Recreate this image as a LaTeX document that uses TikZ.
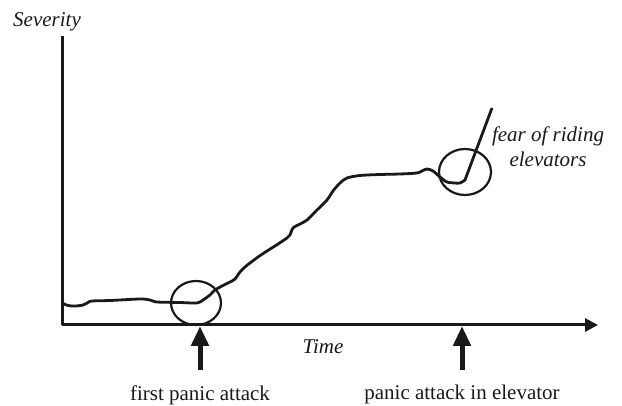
\documentclass[tikz,border=0pt]{standalone}
\usepackage{fontspec}
\setmainfont{Liberation Serif}
\usetikzlibrary{arrows.meta}

\definecolor{ink}{rgb}{0.1,0.1,0.1}

\begin{document}
\begin{tikzpicture}[x=1pt, y=-1pt, font=\fontsize{21}{25}\selectfont]
        \useasboundingbox (0,0) rectangle (622,406);

        \coordinate (origin) at (62,325);
        \coordinate (ytop) at (62,36);
        \coordinate (xend) at (598,325);
        \coordinate (first) at (200,326);
        \coordinate (elev) at (462,326);

        \draw[ink, line width=3pt] (ytop) -- (origin);
        \draw[ink, line width=3pt, -{Triangle[width=13pt,length=13pt]}] (origin) -- (xend);

        \node[ink, font=\fontsize{21}{25}\selectfont\itshape] (sev) at (47,22) {Severity};
        \node[ink, font=\fontsize{21}{25}\selectfont\itshape] (time) at (323,347) {Time};

        \draw[ink, line width=2.8pt, line join=round] plot[smooth, tension=0.5] coordinates {
            (62,303) (68,305.5) (75,306) (83,305) (88,302.5) (92,301) (110,300.5)
            (140,299) (150,300) (157,302) (180,302.5) (197,303) (203,300) (210,295)
            (215,290) (222,286) (230,282) (235,279) (240,272) (245,267) (250,263)
            (258,257) (267,251) (275,246) (287,238) (290,235) (293,228) (300,224)
            (307,220) (317,210) (327,200) (333,191) (340,183) (347,178) (360,175.5)
            (380,174.5) (400,174) (417,173) (422,171) (427,169) (433,171) (440,177)
            (447,182) (455,183) (460,183) (465,180)} -- (492,108);

        \draw[ink, line width=2.2pt] (196,303) ellipse (25 and 22);
        \draw[ink, line width=2.2pt] (465,172) ellipse (26 and 23);

        \node[ink, font=\fontsize{21}{25}\selectfont\itshape, align=center] (fear) at (548,147) {fear of riding\\elevators};

        \node[ink] (lab1) at (200,395) {first panic attack};
        \node[ink] (lab2) at (462,394) {panic attack in elevator};

        \draw[ink, line width=5pt, -{Triangle[width=17pt,length=20pt]}] (200,370) -- (first);
        \draw[ink, line width=5pt, -{Triangle[width=17pt,length=20pt]}] (462,370) -- (elev);
    \end{tikzpicture}
\end{document}
